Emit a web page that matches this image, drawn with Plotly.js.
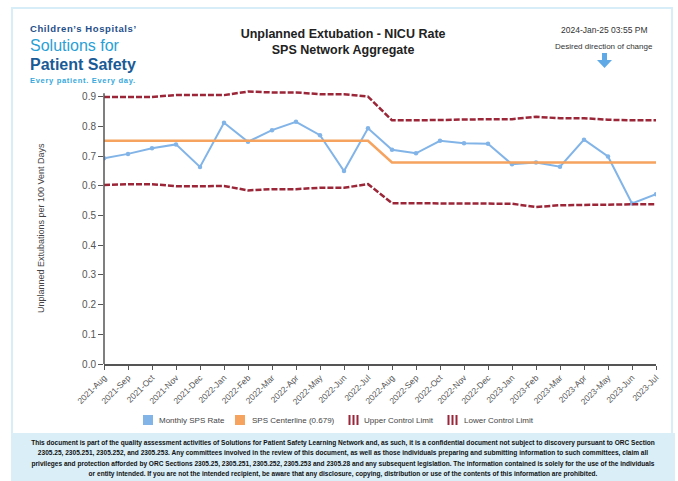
<!DOCTYPE html>
<html>
<head>
<meta charset="utf-8">
<script src="https://cdn.plot.ly/plotly-3.0.1.min.js"></script>
<style>
  html, body { margin:0; padding:0; }
  body { width:678px; height:481px; position:relative; overflow:hidden; background:#ffffff; font-family:"Liberation Sans", Arial, sans-serif; }
  #frame { position:absolute; left:11px; top:7px; width:662px; height:426px; border:2px solid #d7edf7; border-bottom:none; box-sizing:border-box; }
  #chart { position:absolute; left:0; top:0; width:678px; height:481px; }
  .logo { position:absolute; left:30px; white-space:nowrap; line-height:1; font-family:"Liberation Sans", Arial, sans-serif; }
  #footer { position:absolute; left:11px; top:433px; width:664px; height:48px; background:#d9eef7; }
  #footer div { text-align:center; white-space:nowrap; font-family:"Liberation Sans Narrow","Arial Narrow","Liberation Sans",sans-serif; font-weight:bold; font-size:6.8px; line-height:10.4px; color:#111; transform:scaleX(0.965); transform-origin:center; }
</style>
</head>
<body>
<div id="frame"></div>
<div class="logo" style="top:24px;font-size:9.5px;font-weight:bold;color:#1f4f8a;letter-spacing:0.6px;">Children’s Hospitals’</div>
<div class="logo" style="top:38px;font-size:16px;font-weight:normal;color:#2a9fd6;">Solutions for</div>
<div class="logo" style="top:56.5px;font-size:16px;font-weight:bold;color:#1a5a96;">Patient Safety</div>
<div class="logo" style="top:77px;font-size:7.5px;font-weight:bold;color:#35a8dd;letter-spacing:0.7px;">Every patient. Every day.</div>
<div id="chart"></div>
<div id="footer">
  <div style="padding-top:5px">This document is part of the quality assessment activities of Solutions for Patient Safety Learning Network and, as such, it is a confidential document not subject to discovery pursuant to ORC Section</div>
  <div>2305.25, 2305.251, 2305.252, and 2305.253. Any committees involved in the review of this document, as well as those individuals preparing and submitting information to such committees, claim all</div>
  <div>privileges and protection afforded by ORC Sections 2305.25, 2305.251, 2305.252, 2305.253 and 2305.28 and any subsequent legislation. The information contained is solely for the use of the individuals</div>
  <div>or entity intended. If you are not the intended recipient, be aware that any disclosure, copying, distribution or use of the contents of this information are prohibited.</div>
</div>
<script>
const months = ["2021-Aug","2021-Sep","2021-Oct","2021-Nov","2021-Dec","2022-Jan","2022-Feb","2022-Mar","2022-Apr","2022-May","2022-Jun","2022-Jul","2022-Aug","2022-Sep","2022-Oct","2022-Nov","2022-Dec","2023-Jan","2023-Feb","2023-Mar","2023-Apr","2023-May","2023-Jun","2023-Jul"];
const monthlyRate = [0.693,0.708,0.727,0.740,0.664,0.813,0.749,0.788,0.816,0.771,0.650,0.794,0.722,0.710,0.752,0.744,0.742,0.673,0.679,0.665,0.756,0.699,0.541,0.572];
const centerline = [0.752,0.752,0.752,0.752,0.752,0.752,0.752,0.752,0.752,0.752,0.752,0.752,0.679,0.679,0.679,0.679,0.679,0.679,0.679,0.679,0.679,0.679,0.679,0.679];
const upperLimit = [0.900,0.900,0.900,0.906,0.907,0.906,0.918,0.915,0.915,0.909,0.909,0.901,0.821,0.821,0.822,0.824,0.824,0.825,0.833,0.828,0.828,0.823,0.821,0.821];
const lowerLimit = [0.603,0.606,0.606,0.599,0.599,0.600,0.585,0.589,0.589,0.594,0.594,0.606,0.542,0.542,0.542,0.542,0.542,0.540,0.529,0.535,0.536,0.538,0.538,0.538];
const yTicks = [0,0.1,0.2,0.3,0.4,0.5,0.6,0.7,0.8,0.9];
const seriesNames = ["Monthly SPS Rate","SPS Centerline (0.679)","Upper Control Limit","Lower Control Limit"];

const BLUE = "#82b4e8", ORANGE = "#f5a35e", RED = "#9b2638";
const COLORS = [BLUE, ORANGE, RED, RED];
const traces = [
  {x: months, y: monthlyRate, name: seriesNames[0], type: "scatter", mode: "lines+markers",
   line: {color: BLUE, width: 2}, marker: {color: BLUE, size: 4.5}},
  {x: months, y: centerline, name: seriesNames[1], type: "scatter", mode: "lines",
   line: {color: ORANGE, width: 2.5}},
  {x: months, y: upperLimit, name: seriesNames[2], type: "scatter", mode: "lines",
   line: {color: RED, width: 2.5, dash: "6px,2px"}},
  {x: months, y: lowerLimit, name: seriesNames[3], type: "scatter", mode: "lines",
   line: {color: RED, width: 2.5, dash: "6px,2px"}}
];

// pixel -> paper helpers (plot area: left 104, width 552, bottom 364, height 276)
const px = x => (x - 104) / 552;
const py = y => (364 - y) / 276;

// custom legend (icon left edge, text left edge) in page pixels
const legendIcon = [143, 235, 348, 447];
const legendText = [157, 250, 362, 462];
const legendY = 420;
const shapes = [
  {type: "line", xref: "paper", yref: "y", x0: 0, x1: 0, y0: 0, y1: 0.912, layer: "above",
   line: {color: "#555", width: 1.5}},
  {type: "path", xref: "paper", yref: "paper", layer: "above",
   path: "M" + [[602,53],[607,53],[607,60],[612,60],[604.5,68],[597,60],[602,60]]
     .map(p => px(p[0]) + "," + py(p[1])).join(" L") + " Z",
   fillcolor: "#5fa9e6", line: {width: 0}}
];
const annotations = [
  {text: "Unplanned Extubations per 100 Vent Days", xref: "paper", yref: "paper",
   x: px(41), y: py(228), xanchor: "center", yanchor: "middle", textangle: -90, showarrow: false,
   font: {size: 9, color: "#444"}},
  {text: "2024-Jan-25 03:55 PM", xref: "paper", yref: "paper",
   x: px(604), y: py(30), xanchor: "center", yanchor: "middle", showarrow: false,
   font: {size: 8.5, color: "#333"}},
  {text: "Desired direction of change", xref: "paper", yref: "paper",
   x: px(604), y: py(46), xanchor: "center", yanchor: "middle", showarrow: false,
   font: {size: 8, color: "#333"}}
];
seriesNames.forEach((name, i) => {
  const x0 = legendIcon[i];
  if (i < 2) {
    shapes.push({type: "rect", xref: "paper", yref: "paper", x0: px(x0), x1: px(x0 + 10),
      y0: py(legendY + 5), y1: py(legendY - 5), fillcolor: COLORS[i], line: {width: 0}, layer: "above"});
  } else {
    [1.5, 5.5, 9.5].forEach(dx => {
      shapes.push({type: "line", xref: "paper", yref: "paper", x0: px(x0 + dx), x1: px(x0 + dx),
        y0: py(legendY + 5), y1: py(legendY - 5), line: {color: COLORS[i], width: 2}, layer: "above"});
    });
  }
  annotations.push({text: name, xref: "paper", yref: "paper", x: px(legendText[i]), y: py(legendY),
    xanchor: "left", yanchor: "middle", showarrow: false, font: {size: 8, color: "#444"}});
});

const layout = {
  width: 678, height: 481,
  margin: {l: 104, r: 22, t: 88, b: 117},
  paper_bgcolor: "rgba(0,0,0,0)", plot_bgcolor: "rgba(0,0,0,0)",
  font: {family: "Liberation Sans, Arial, sans-serif", color: "#444"},
  showlegend: false,
  hovermode: false,
  title: {text: "<b>Unplanned Extubation - NICU Rate<br>SPS Network Aggregate</b>",
    x: 0.506, xanchor: "center", y: 0.922, yanchor: "top",
    font: {size: 12.5, color: "#222", family: "Liberation Sans, Arial, sans-serif"}},
  xaxis: {type: "category", range: [0, 23], showgrid: false, zeroline: false,
    showline: true, linecolor: "#555", linewidth: 1.5, ticks: "outside", ticklen: 4, tickcolor: "#555",
    tickangle: -45, tickfont: {size: 8.5, color: "#555"}, fixedrange: true},
  yaxis: {range: [0, 0.93], tickvals: yTicks, tickformat: ".1f", showgrid: false, zeroline: false,
    showline: false, ticks: "outside", ticklen: 5, tickcolor: "#555",
    tickfont: {size: 10, color: "#555"}, fixedrange: true},
  annotations: annotations,
  shapes: shapes
};

Plotly.newPlot("chart", traces, layout, {displayModeBar: false, staticPlot: true});
</script>
</body>
</html>
